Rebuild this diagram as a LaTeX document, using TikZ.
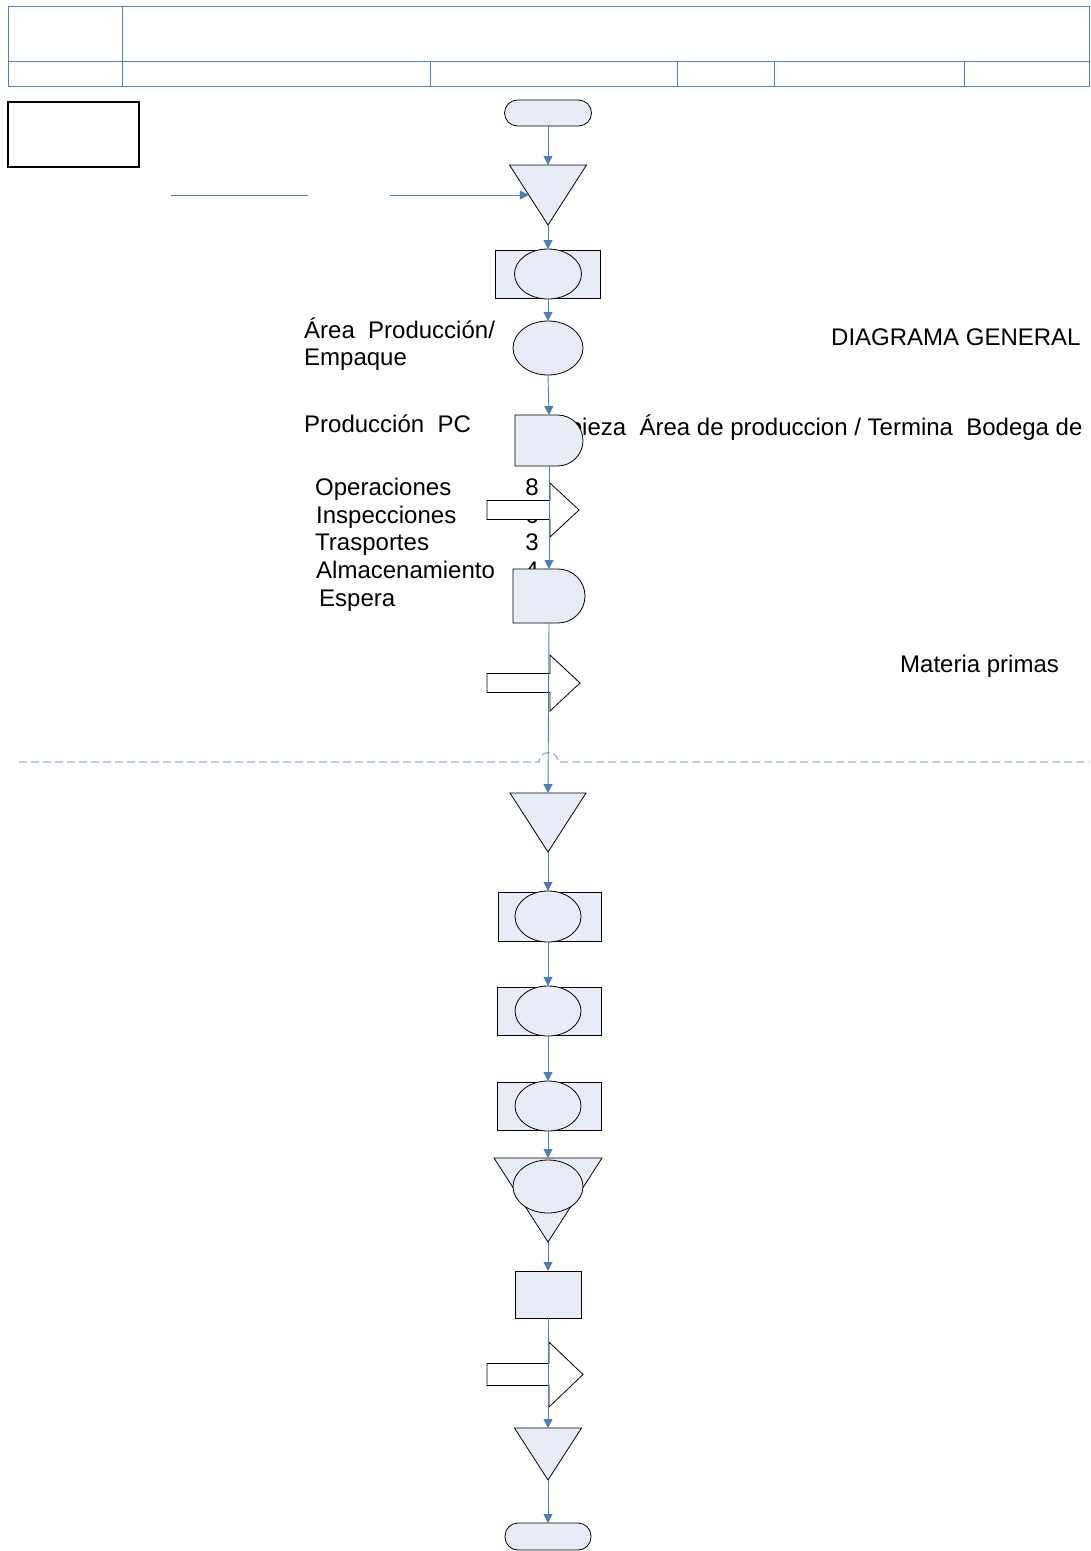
\documentclass[tikz,border=0pt]{standalone}
\usepackage{fontspec}
\setmainfont{Liberation Sans}
\usepackage{tikz}
\usetikzlibrary{arrows.meta,positioning,shapes.geometric,calc}
\definecolor{shapefill}{RGB}{231,236,247}
\definecolor{flowblue}{RGB}{74,126,187}
\definecolor{hdrblue}{RGB}{79,129,189}
\definecolor{dashblue}{RGB}{149,179,215}

\begin{document}
\begin{tikzpicture}[
  x=1pt,y=-1pt,
  frame/.style={inner sep=0pt,outer sep=0pt},
  shp/.style={draw=black,fill=shapefill,line width=0.8pt},
  oval/.style={ellipse,shp,inner sep=0pt,outer sep=0pt},
  box/.style={rectangle,shp,inner sep=0pt,outer sep=0pt},
  term/.style={rectangle,shp,rounded corners=13pt,inner sep=0pt,outer sep=0pt},
  blockarrow/.style={draw=black,fill=white,line width=0.8pt},
  hdr/.style={draw=hdrblue,line width=0.9pt},
  lbl/.style={font=\fontsize{24}{28}\selectfont,inner sep=0pt,anchor=base west},
  num/.style={font=\fontsize{24}{28}\selectfont,inner sep=0pt,anchor=base east},
  flow/.style={draw=flowblue,line width=0.9pt,-{Triangle[length=9pt,width=9pt]}}]
\useasboundingbox (0,0) rectangle (1091,1551);

% header table
\draw[hdr] (8,6) rectangle (1089,86);
\draw[hdr] (8,61) -- (1089,61);
\draw[hdr] (122,6) -- (122,86);
\foreach \x in {430,677,774,964} \draw[hdr] (\x,61) -- (\x,86);
\node[draw=black,line width=1.2pt,minimum width=131pt,minimum height=65pt] (keybox) at (73.5,134.5) {};

% texts (behind the shapes)
\node[lbl] (area) at (304,338) {Área\ \ Producción/};
\node[lbl] (empaque) at (304,365) {Empaque};
\node[lbl] (diagrama) at (831,345) {DIAGRAMA GENERAL};
\node[lbl] (prodpc) at (304,432) {Producción\ \ PC};
\node[lbl] (limpieza) at (530,435) {Limpieza\ \ Área de produccion / Termina\ \ Bodega de};
\node[lbl] (oper) at (315,495) {Operaciones};
\node[lbl] (insp) at (316,523) {Inspecciones};
\node[lbl] (trans) at (315,550) {Trasportes};
\node[lbl] (almac) at (316,578) {Almacenamiento};
\node[lbl] (espera) at (319,606) {Espera};
\node[num] (noper) at (539,495) {8};
\node[num] (ninsp) at (539,523) {6};
\node[num] (ntrans) at (539,550) {3};
\node[num] (nalmac) at (539,578) {4};
\node[lbl] (materia) at (900,672) {Materia primas};

% upper part of the process
\node[term,minimum width=87pt,minimum height=26pt] (start) at (548,113) {};
\node[frame,minimum width=77pt,minimum height=60pt] (tri1) at (548,195) {};
\draw[shp] (tri1.north west) -- (tri1.north east) -- (tri1.south) -- cycle;
\node[box,minimum width=105pt,minimum height=48pt] (rect1) at (548,274) {};
\node[oval,minimum width=67pt,minimum height=50pt] (op1) at (548,274) {};
\node[oval,minimum width=70pt,minimum height=54pt] (op2) at (548,348) {};
\node[frame,minimum width=68pt,minimum height=51pt] (del1) at (549,440.5) {};
\draw[shp] (del1.south west) -- (del1.north west) -- ([xshift=-25.5pt]del1.north east)
  arc[start angle=90,end angle=-90,radius=25.5pt] -- cycle;
\node[frame,minimum width=92pt,minimum height=54pt] (arr1) at (533,510) {};
\draw[blockarrow] ([yshift=9.5pt]arr1.west) -- ++(63pt,0pt) -- ++(0pt,17.5pt) -- (arr1.east)
  -- ++(-29pt,-27pt) -- ++(0pt,17.5pt) -- ([yshift=-9.5pt]arr1.west) -- cycle;
\node[frame,minimum width=72pt,minimum height=54pt] (del2) at (549,596) {};
\draw[shp] (del2.south west) -- (del2.north west) -- ([xshift=-27pt]del2.north east)
  arc[start angle=90,end angle=-90,radius=27pt] -- cycle;
\node[frame,minimum width=93pt,minimum height=56pt] (arr2) at (533.5,683) {};
\draw[blockarrow] ([yshift=9.5pt]arr2.west) -- ++(63pt,0pt) -- ++(0pt,18.5pt) -- (arr2.east)
  -- ++(-30pt,-28pt) -- ++(0pt,18.5pt) -- ([yshift=-9.5pt]arr2.west) -- cycle;

% dividing line with a hop
\coordinate (divl) at (19,762);
\coordinate (divr) at (1089,762);
\draw[dashblue,line width=1.3pt,dash pattern=on 8pt off 4pt]
  (divl) -- (539,762) .. controls +(0pt,12.5pt) and +(0pt,12.5pt) .. (558,762) -- (divr);

% lower part of the process
\node[frame,minimum width=76pt,minimum height=59pt] (tri2) at (548,822.5) {};
\draw[shp] (tri2.north west) -- (tri2.north east) -- (tri2.south) -- cycle;
\node[box,minimum width=103pt,minimum height=49pt] (rect2) at (550,916.5) {};
\node[oval,minimum width=66pt,minimum height=51pt] (op3) at (548,916.5) {};
\node[box,minimum width=104pt,minimum height=48pt] (rect3) at (549,1011) {};
\node[oval,minimum width=66pt,minimum height=50pt] (op4) at (548,1011) {};
\node[box,minimum width=104pt,minimum height=48pt] (rect4) at (549,1106) {};
\node[oval,minimum width=66pt,minimum height=50pt] (op5) at (548,1106) {};
\node[frame,minimum width=108pt,minimum height=84pt] (tri3) at (548,1200) {};
\draw[shp] (tri3.north west) -- (tri3.north east) -- (tri3.south) -- cycle;
\node[oval,minimum width=70pt,minimum height=53pt] (op6) at (548,1186.5) {};
\node[box,minimum width=66pt,minimum height=47pt] (rect5) at (548,1294.5) {};
\node[frame,minimum width=96pt,minimum height=65pt] (arr3) at (535,1374.5) {};
\draw[blockarrow] ([yshift=11pt]arr3.west) -- ++(62pt,0pt) -- ++(0pt,21.5pt) -- (arr3.east)
  -- ++(-34pt,-32.5pt) -- ++(0pt,21.5pt) -- ([yshift=-11pt]arr3.west) -- cycle;
\node[frame,minimum width=67pt,minimum height=52pt] (tri4) at (548,1454) {};
\draw[shp] (tri4.north west) -- (tri4.north east) -- (tri4.south) -- cycle;
\node[term,minimum width=86pt,minimum height=27pt] (stop) at (548,1536.5) {};

% input line
\coordinate (ina) at (171,195);
\coordinate (inb) at (308,195);
\coordinate (inc) at (390,195);
\draw[draw=flowblue,line width=0.9pt] (ina) -- (inb);
\draw[flow] (inc) -- ($(tri1.north west)!0.5!(tri1.south)$);

% flow
\draw[flow] (start) -- (tri1.north);
\draw[flow] (tri1.south) -- (op1.north);
\draw[flow] (op1.south) -- (op2.north);
\draw[flow] (op2.south) -- (del1.north);
\draw[flow] (del1.south) -- (del2.north);
\draw[flow] (del2.south) -- (tri2.north);
\draw[flow] (tri2.south) -- (op3.north);
\draw[flow] (op3.south) -- (op4.north);
\draw[flow] (op4.south) -- (op5.north);
\draw[flow] (op5.south) -- (tri3.north);
\draw[flow] (tri3.south) -- (rect5.north);
\draw[flow] (rect5.south) -- (tri4.north);
\draw[flow] (tri4.south) -- (stop.north);
\end{tikzpicture}
\end{document}
